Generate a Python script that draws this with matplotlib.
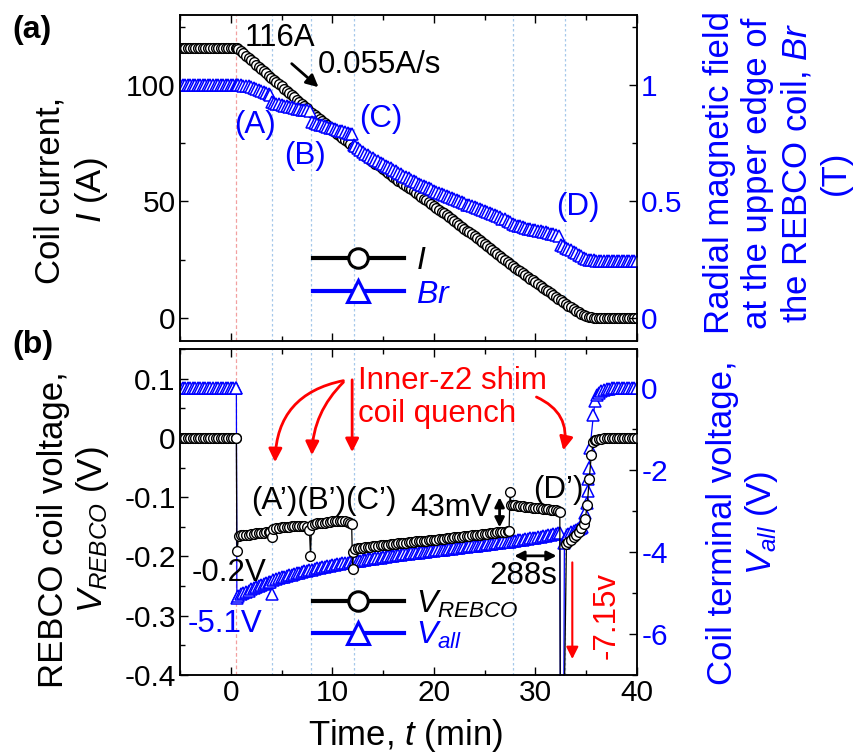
import matplotlib
matplotlib.use('Agg')
import matplotlib.pyplot as plt
from matplotlib.lines import Line2D
from matplotlib.ticker import MultipleLocator, FuncFormatter

plt.rcParams['font.family'] = ['Liberation Sans', 'DejaVu Sans']
plt.rcParams['mathtext.fontset'] = 'custom'
plt.rcParams['mathtext.rm'] = 'Liberation Sans'
plt.rcParams['mathtext.it'] = 'Liberation Sans:italic'
plt.rcParams['mathtext.bf'] = 'Liberation Sans:bold'
plt.rcParams['axes.unicode_minus'] = False

# ---------------- data ----------------
# (a) coil current I (A)
I_t = [-5.0, -4.75, -4.5, -4.25, -4.0, -3.75, -3.5, -3.25, -3.0, -2.75, -2.5, -2.25,
       -2.0, -1.75, -1.5, -1.25, -1.0, -0.75, -0.5, -0.25, 0.0, 0.25, 0.5, 0.6, 0.75,
       1.0, 1.25, 1.5, 1.75, 2.0, 2.25, 2.5, 2.75, 3.0, 3.25, 3.5, 3.75,
       4.0, 4.25, 4.5, 4.75, 5.0, 5.25, 5.5, 5.75, 6.0, 6.25, 6.5, 6.75,
       7.0, 7.25, 7.5, 7.75, 8.0, 8.25, 8.5, 8.75, 9.0, 9.25, 9.5, 9.75,
       10.0, 10.25, 10.5, 10.75, 11.0, 11.25, 11.5, 11.75, 12.0, 12.25, 12.5, 12.75,
       13.0, 13.25, 13.5, 13.75, 14.0, 14.25, 14.5, 14.75, 15.0, 15.25, 15.5, 15.75,
       16.0, 16.25, 16.5, 16.75, 17.0, 17.25, 17.5, 17.75, 18.0, 18.25, 18.5, 18.75,
       19.0, 19.25, 19.5, 19.75, 20.0, 20.25, 20.5, 20.75, 21.0, 21.25, 21.5, 21.75,
       22.0, 22.25, 22.5, 22.75, 23.0, 23.25, 23.5, 23.75, 24.0, 24.25, 24.5, 24.75,
       25.0, 25.25, 25.5, 25.75, 26.0, 26.25, 26.5, 26.75, 27.0, 27.25, 27.5, 27.75,
       28.0, 28.25, 28.5, 28.75, 29.0, 29.25, 29.5, 29.75, 30.0, 30.25, 30.5, 30.75,
       31.0, 31.25, 31.5, 31.75, 32.0, 32.25, 32.5, 32.75, 33.0, 33.25, 33.5, 33.75,
       34.0, 34.25, 34.5, 34.75, 35.0, 35.25, 35.5, 35.75, 36.0, 36.25, 36.5, 36.75,
       37.0, 37.25, 37.5, 37.75, 38.0, 38.25, 38.5, 38.75, 39.0, 39.25, 39.5, 39.75,
       40.0]
I_A = [116, 116, 116, 116, 116, 116, 116, 116, 116, 116, 116, 116,
       116, 116, 116, 116, 116, 116, 116, 116, 116, 116, 116, 116, 115.4,
       114.5, 113.5, 112.6, 111.6, 110.6, 109.7, 108.7, 107.8, 106.8, 105.9, 104.9, 104.0,
       103.0, 102.1, 101.1, 100.2, 99.3, 98.3, 97.4, 96.4, 95.5, 94.6, 93.6, 92.7,
       91.8, 90.8, 89.9, 88.9, 88.0, 87.1, 86.2, 85.3, 84.4, 83.5, 82.6, 81.7,
       80.8, 79.9, 79.0, 78.0, 77.1, 76.2, 75.3, 74.4, 73.5, 72.7, 71.9, 71.1,
       70.3, 69.4, 68.6, 67.8, 67.0, 66.2, 65.4, 64.6, 63.8, 62.9, 62.1, 61.3,
       60.5, 59.7, 58.9, 58.2, 57.4, 56.6, 55.8, 55.1, 54.3, 53.5, 52.7, 51.9,
       51.1, 50.4, 49.6, 48.8, 48.0, 47.2, 46.4, 45.6, 44.8, 43.9, 43.1, 42.3,
       41.5, 40.7, 39.9, 39.1, 38.3, 37.4, 36.6, 35.8, 35.0, 34.2, 33.3, 32.5,
       31.6, 30.8, 29.9, 29.1, 28.3, 27.4, 26.6, 25.7, 24.9, 24.0, 23.2, 22.3,
       21.5, 20.7, 19.9, 19.2, 18.4, 17.6, 16.8, 16.1, 15.3, 14.5, 13.7, 12.9,
       12.1, 11.4, 10.6, 9.8, 9.0, 8.2, 7.4, 6.7, 6.0, 5.2, 4.5, 3.7,
       3.0, 2.4, 1.8, 1.3, 0.8, 0.4, 0.1, 0.0, 0, 0, 0, 0,
       0, 0, 0, 0, 0, 0, 0, 0, 0, 0, 0, 0,
       0]

# (a) radial magnetic field Br (T)
Br_t = [-5.0, -4.75, -4.5, -4.25, -4.0, -3.75, -3.5, -3.25, -3.0, -2.75, -2.5, -2.25,
        -2.0, -1.75, -1.5, -1.25, -1.0, -0.75, -0.5, -0.25, 0.0, 0.25, 0.5,
        0.6, 0.75, 1.0, 1.25, 1.5, 1.75, 2.0, 2.25, 2.5, 2.75, 3.0, 3.25, 3.5, 3.75, 3.9,
        4.1, 4.25, 4.5, 4.75, 5.0, 5.25, 5.5, 5.75, 6.0, 6.25, 6.5, 6.75, 7.0, 7.25,
        7.5, 7.8,
        8.0, 8.25, 8.5, 8.75, 9.0, 9.25, 9.5, 9.75, 10.0, 10.25, 10.5, 10.75, 11.0,
        11.25, 11.5, 11.75, 11.9,
        12.1, 12.25, 12.5, 12.75,
        13.0, 13.25, 13.5, 13.75, 14.0, 14.25, 14.5, 14.75, 15.0, 15.25, 15.5, 15.75,
        16.0, 16.25, 16.5, 16.75, 17.0, 17.25, 17.5, 17.75, 18.0, 18.25, 18.5, 18.75,
        19.0, 19.25, 19.5, 19.75, 20.0, 20.25, 20.5, 20.75, 21.0, 21.25, 21.5, 21.75,
        22.0, 22.25, 22.5, 22.75, 23.0, 23.25, 23.5, 23.75, 24.0, 24.25, 24.5, 24.75,
        25.0, 25.25, 25.5, 25.75, 26.0, 26.25, 26.5, 26.75, 27.0, 27.25, 27.5, 27.75,
        28.0, 28.25, 28.5, 28.75, 29.0, 29.25, 29.5, 29.75, 30.0, 30.25, 30.5, 30.75,
        31.0, 31.25, 31.5, 31.75, 32.0, 32.3,
        32.5, 32.75, 33.0, 33.25, 33.5, 33.75, 34.0, 34.25, 34.5, 34.75, 35.0, 35.25,
        35.5, 35.75, 36.0, 36.25, 36.5, 36.75, 37.0, 37.25, 37.5, 37.75, 38.0, 38.25,
        38.5, 38.75, 39.0, 39.25, 39.5, 39.75, 40.0]
Br_T = [1.0, 1.0, 1.0, 1.0, 1.0, 1.0, 1.0, 1.0, 1.0, 1.0, 1.0, 1.0,
        1.0, 1.0, 1.0, 1.0, 1.0, 1.0, 1.0, 1.0, 1.0, 1.0, 1.0,
        1.0, 0.999, 0.998, 0.997, 0.995, 0.993, 0.990, 0.987, 0.983, 0.979, 0.975, 0.971,
        0.966, 0.961, 0.958,
        0.925, 0.922, 0.919, 0.916, 0.913, 0.910, 0.908, 0.905, 0.903, 0.900, 0.898,
        0.896, 0.894, 0.892, 0.890, 0.887,
        0.840, 0.836, 0.833, 0.829, 0.826, 0.822, 0.819, 0.816, 0.813, 0.809, 0.806,
        0.803, 0.800, 0.797, 0.794, 0.791, 0.789,
        0.742, 0.738, 0.730, 0.721,
        0.712, 0.705, 0.698, 0.691, 0.685, 0.678, 0.672, 0.666, 0.660, 0.653, 0.647, 0.641,
        0.635, 0.628, 0.622, 0.616, 0.610, 0.604, 0.598, 0.592, 0.587, 0.581, 0.576, 0.571,
        0.566, 0.561, 0.556, 0.551, 0.546, 0.541, 0.536, 0.531, 0.527, 0.522, 0.518, 0.513,
        0.509, 0.504, 0.500, 0.495, 0.491, 0.486, 0.482, 0.478, 0.474, 0.470, 0.466, 0.461,
        0.457, 0.453, 0.449, 0.444, 0.440, 0.435, 0.431, 0.426, 0.422, 0.416, 0.410, 0.403,
        0.398, 0.395, 0.392, 0.389, 0.386, 0.383, 0.381, 0.378, 0.376, 0.373, 0.371, 0.368,
        0.366, 0.363, 0.361, 0.358, 0.355, 0.350,
        0.312, 0.306, 0.301, 0.295, 0.289, 0.282, 0.276, 0.270, 0.264, 0.258, 0.253, 0.249,
        0.247, 0.246, 0.245, 0.245, 0.245, 0.245, 0.245, 0.245, 0.245, 0.245, 0.245, 0.245,
        0.245, 0.245, 0.245, 0.245, 0.245, 0.245, 0.245]

# (b) REBCO coil voltage V_REBCO (V)
Vr_t = [-5.0, -4.75, -4.5, -4.25, -4.0, -3.75, -3.5, -3.25, -3.0, -2.75, -2.5, -2.25,
        -2.0, -1.75, -1.5, -1.25, -1.0, -0.75, -0.5, -0.25, 0.0, 0.25, 0.5,
        0.55, 0.6, 0.8, 1.0, 1.25, 1.5, 1.75, 2.0, 2.25, 2.5, 2.75, 3.0, 3.25, 3.5, 3.75, 3.9,
        4.05, 4.2, 4.5, 4.75, 5.0, 5.25, 5.5, 5.75, 6.0, 6.25, 6.5, 6.75, 7.0, 7.25, 7.5, 7.75,
        7.85, 7.95, 8.25, 8.5, 8.75, 9.0, 9.25, 9.5, 9.75, 10.0, 10.25, 10.5, 10.75, 11.0,
        11.25, 11.5, 11.75, 11.9,
        12.0, 12.05, 12.2,
        12.5, 12.75, 13.0, 13.25, 13.5, 13.75, 14.0, 14.25, 14.5, 14.75, 15.0, 15.25,
        15.5, 15.75, 16.0, 16.25, 16.5, 16.75, 17.0, 17.25, 17.5, 17.75, 18.0, 18.25,
        18.5, 18.75, 19.0, 19.25, 19.5, 19.75, 20.0, 20.25, 20.5, 20.75, 21.0, 21.25,
        21.5, 21.75, 22.0, 22.25, 22.5, 22.75, 23.0, 23.25, 23.5, 23.75, 24.0, 24.25,
        24.5, 24.75, 25.0, 25.25, 25.5, 25.75, 26.0, 26.25, 26.5, 26.75, 27.0, 27.25,
        27.4, 27.5, 27.6, 27.75,
        28.0, 28.25, 28.5, 28.75, 29.0, 29.25, 29.5, 29.75, 30.0, 30.25, 30.5, 30.75,
        31.0, 31.25, 31.5, 31.75, 32.0, 32.25,
        32.4, 32.45, 32.8, 33.05, 33.25, 33.5, 33.75, 34.0, 34.25, 34.5, 34.75, 34.9,
        35.1, 35.3, 35.5, 35.7, 35.85, 36.0, 36.25, 36.5, 36.75,
        37.0, 37.25, 37.5, 37.75, 38.0, 38.25, 38.5, 38.75, 39.0, 39.25, 39.5, 39.75, 40.0]
Vr_V = [0, 0, 0, 0, 0, 0, 0, 0, 0, 0, 0, 0,
        0, 0, 0, 0, 0, 0, 0, 0, 0, 0, 0,
        0, -0.191, -0.165, -0.164, -0.164, -0.163, -0.163, -0.162, -0.162, -0.161, -0.161,
        -0.160, -0.160, -0.159, -0.159, -0.158,
        -0.168, -0.153, -0.152, -0.152, -0.151, -0.151, -0.150, -0.150, -0.149, -0.149,
        -0.148, -0.148, -0.148, -0.149, -0.151, -0.156,
        -0.199, -0.147, -0.145, -0.144, -0.144, -0.143, -0.143, -0.142, -0.142, -0.141,
        -0.141, -0.141, -0.141, -0.141, -0.141, -0.142, -0.143, -0.145,
        -0.221, -0.193, -0.187,
        -0.186, -0.1855, -0.185, -0.1845, -0.184, -0.1835, -0.183, -0.1825, -0.182, -0.1815,
        -0.181, -0.1805, -0.180, -0.1795, -0.179, -0.1785, -0.178, -0.1775, -0.177, -0.1765,
        -0.176, -0.1755, -0.175, -0.1747, -0.1745, -0.1742, -0.174, -0.1735, -0.173, -0.1725,
        -0.172, -0.1715, -0.171, -0.1705, -0.170, -0.1695, -0.169, -0.1685, -0.168, -0.1675,
        -0.167, -0.1665, -0.166, -0.1655, -0.165, -0.1645, -0.164, -0.1635, -0.163, -0.1625,
        -0.162, -0.1615, -0.161, -0.1605, -0.160, -0.1595, -0.159, -0.1585, -0.158, -0.1575,
        -0.157, -0.0915, -0.113, -0.113,
        -0.114, -0.1145, -0.115, -0.1155, -0.116, -0.1165, -0.117, -0.1175, -0.118, -0.1185,
        -0.119, -0.1195, -0.120, -0.1205, -0.121, -0.1215, -0.122, -0.1235,
        -0.125, -0.5, -0.5, -0.179, -0.176, -0.172, -0.168, -0.164, -0.158, -0.152, -0.145,
        -0.136, -0.114, -0.069, -0.029, -0.007, -0.004, -0.003, -0.002, -0.001, 0,
        0, 0, 0, 0, 0, 0, 0, 0, 0, 0, 0, 0, 0]

# (b) coil terminal voltage V_all (V)
Va_t = [-5.0, -4.75, -4.5, -4.25, -4.0, -3.75, -3.5, -3.25, -3.0, -2.75, -2.5, -2.25,
        -2.0, -1.75, -1.5, -1.25, -1.0, -0.75, -0.5, -0.25, 0.0, 0.25, 0.5,
        0.55, 0.6, 0.75, 1.0, 1.25, 1.5, 1.75, 2.0, 2.25, 2.5, 2.75, 3.0, 3.25, 3.5, 3.75,
        3.9, 4.05, 4.2,
        4.5, 4.75, 5.0, 5.25, 5.5, 5.75, 6.0, 6.25, 6.5, 6.75, 7.0, 7.25, 7.5, 7.75,
        8.0, 8.25, 8.5, 8.75, 9.0, 9.25, 9.5, 9.75, 10.0, 10.25, 10.5, 10.75,
        11.0, 11.25, 11.5, 11.75, 12.0, 12.25, 12.5, 12.75, 13.0, 13.25, 13.5, 13.75,
        14.0, 14.25, 14.5, 14.75, 15.0, 15.25, 15.5, 15.75, 16.0, 16.25, 16.5, 16.75,
        17.0, 17.25, 17.5, 17.75, 18.0, 18.25, 18.5, 18.75, 19.0, 19.25, 19.5, 19.75,
        20.0, 20.25, 20.5, 20.75, 21.0, 21.25, 21.5, 21.75, 22.0, 22.25, 22.5, 22.75,
        23.0, 23.25, 23.5, 23.75, 24.0, 24.25, 24.5, 24.75, 25.0, 25.25, 25.5, 25.75,
        26.0, 26.25, 26.5, 26.75, 27.0, 27.25, 27.5, 27.75, 28.0, 28.25, 28.5, 28.75,
        29.0, 29.25, 29.5, 29.75, 30.0, 30.25, 30.5, 30.75, 31.0, 31.25, 31.5, 31.75,
        32.0, 32.25,
        32.4, 32.45, 32.8, 32.85, 33.1, 33.25, 33.5, 33.75, 34.0, 34.15, 34.3, 34.45,
        34.55, 34.72, 34.88, 35.05, 35.15, 35.22, 35.28, 35.38, 35.71, 35.87, 36.04, 36.25,
        36.5, 36.75, 37.0, 37.25, 37.5, 37.75,
        38.0, 38.25, 38.5, 38.75, 39.0, 39.25, 39.5, 39.75, 40.0]
Va_V = [0, 0, 0, 0, 0, 0, 0, 0, 0, 0, 0, 0,
        0, 0, 0, 0, 0, 0, 0, 0, 0, 0, 0,
        0, -5.12, -5.07, -5.03, -5.00, -4.97, -4.94, -4.91, -4.885, -4.86, -4.835, -4.81,
        -4.785, -4.76, -4.735, -4.72, -5.02, -4.69,
        -4.66, -4.64, -4.62, -4.60, -4.58, -4.565, -4.55, -4.535, -4.52, -4.505, -4.49,
        -4.475, -4.46, -4.445,
        -4.43, -4.415, -4.40, -4.385, -4.37, -4.36, -4.35, -4.335, -4.32, -4.31, -4.30, -4.29,
        -4.28, -4.27, -4.26, -4.25, -4.24, -4.23, -4.22, -4.21, -4.20, -4.19, -4.18, -4.17,
        -4.16, -4.152, -4.145, -4.137, -4.13, -4.12, -4.11, -4.10, -4.09, -4.082, -4.075, -4.067,
        -4.06, -4.052, -4.045, -4.037, -4.03, -4.022, -4.015, -4.007, -4.00, -3.992, -3.985, -3.977,
        -3.97, -3.962, -3.955, -3.947, -3.94, -3.932, -3.925, -3.917, -3.91, -3.902, -3.895, -3.887,
        -3.88, -3.872, -3.865, -3.857, -3.85, -3.842, -3.835, -3.827, -3.82, -3.812, -3.805, -3.797,
        -3.79, -3.782, -3.775, -3.767, -3.76, -3.752, -3.745, -3.737, -3.73, -3.72, -3.71, -3.70,
        -3.69, -3.68, -3.67, -3.66, -3.65, -3.64, -3.63, -3.62, -3.61, -3.597, -3.585, -3.572,
        -3.56, -3.545,
        -3.53, -7.15, -7.15, -3.77, -3.58, -3.55, -3.52, -3.495, -3.47, -3.45, -3.43, -3.415,
        -3.40, -3.24, -3.04, -2.80, -2.51, -2.23, -1.95, -1.46, -0.65, -0.33, -0.17, -0.12,
        -0.08, -0.05, -0.03, -0.02, -0.01, -0.005,
        0, 0, 0, 0, 0, 0, 0, 0, 0]

quench_start = 0.56
event_times = [4.1, 7.9, 12.15, 27.8, 32.9]

x_ticks = [0, 10, 20, 30, 40]

# ---------------- figure ----------------
W, H = 857, 755
fig = plt.figure(figsize=(W / 100, H / 100), dpi=100)


def px_axes(l, t, r, b):
    return fig.add_axes([l / W, 1 - b / H, (r - l) / W, (b - t) / H])


ax1 = px_axes(180, 15, 637, 341)
ax2 = px_axes(180, 349, 637, 675)
ax1r = ax1.twinx()
ax2r = ax2.twinx()

# bottom: put V_REBCO axis above V_all axis
ax2.set_zorder(ax2r.get_zorder() + 1)
ax2.patch.set_visible(False)

TICK_FS = 21.5
fmt = FuncFormatter(lambda v, p: f'{v:g}')

mk_k = dict(color='k', lw=0.9, marker='o', ms=7, mfc='white', mec='k', mew=1.0)
mk_b = dict(color='blue', lw=0.9, marker='^', ms=8.5, mfc='white', mec='blue', mew=1.1)

ax1.plot(I_t, I_A, **mk_k)
ax1r.plot(Br_t, Br_T, **mk_b)
ax2r.plot(Va_t, Va_V, **mk_b)
ax2.plot(Vr_t, Vr_V, **mk_k)

# guide lines
for a in (ax1, ax2r):
    a.axvline(quench_start, color='#f2a0a0', lw=0.9, ls=(0, (3, 2)), zorder=0)
    for t in event_times:
        a.axvline(t, color='#a6c8ea', lw=0.9, ls=(0, (2, 2)), zorder=0)

# limits & ticks
for a in (ax1, ax2):
    a.set_xlim(-5, 40)
    a.set_xticks(x_ticks)
    a.xaxis.set_minor_locator(MultipleLocator(5))
    a.tick_params(axis='both', which='both', direction='in', top=True,
                  right=False, labelsize=TICK_FS, width=1, pad=3)
    a.tick_params(which='major', length=6)
    a.tick_params(which='minor', length=3.5)
    a.yaxis.set_major_formatter(fmt)
    for s in a.spines.values():
        s.set_linewidth(1.1)
for a in (ax1r, ax2r):
    a.tick_params(axis='y', which='both', direction='in', labelsize=TICK_FS,
                  labelcolor='blue', width=1, pad=3)
    a.tick_params(which='major', length=6)
    a.tick_params(which='minor', length=3.5)
    a.yaxis.set_major_formatter(fmt)
    for s in a.spines.values():
        s.set_linewidth(1.1)

ax1.tick_params(labelbottom=False)
ax1.set_ylim(-10, 130)
ax1.set_yticks([0, 50, 100])
ax1.yaxis.set_minor_locator(MultipleLocator(25))
ax1r.set_ylim(-0.1, 1.3)
ax1r.set_yticks([0, 0.5, 1])
ax1r.yaxis.set_minor_locator(MultipleLocator(0.25))

ax2.set_ylim(-0.4, 0.15)
ax2.set_yticks([-0.4, -0.3, -0.2, -0.1, 0, 0.1])
ax2.yaxis.set_minor_locator(MultipleLocator(0.05))
ax2r.set_ylim(-7, 0.95)
ax2r.set_yticks([-6, -4, -2, 0])
ax2r.yaxis.set_minor_locator(MultipleLocator(1))

# legends
LEG_FS = 23
h1 = Line2D([], [], color='k', lw=3, marker='o', ms=14, mfc='white', mec='k', mew=2.2)
h2 = Line2D([], [], color='blue', lw=3, marker='^', ms=16, mfc='white', mec='blue', mew=2.2)
ax1r.legend([h1, h2], ['$I$', '$Br$'], loc='upper left', bbox_to_anchor=(0.29, 0.29),
            frameon=False, fontsize=LEG_FS, handlelength=2.85, handletextpad=0.4,
            labelspacing=0.1, borderpad=0, borderaxespad=0,
            labelcolor=['black', 'blue'])
ax2.legend([h1, h2], ['$V_{REBCO}$', '$V_{all}$'], loc='upper left',
           bbox_to_anchor=(0.29, 0.265), frameon=False, fontsize=LEG_FS,
           handlelength=2.85, handletextpad=0.4, labelspacing=0.0,
           borderpad=0, borderaxespad=0, labelcolor=['black', 'blue'])

# annotations (a)
ANN_FS = 22.5
ax1.text(1.4, 120.3, '116A', fontsize=ANN_FS, ha='left', va='center')
ax1.text(8.6, 108.6, '0.055A/s', fontsize=ANN_FS, ha='left', va='center')
ax1.annotate('', xy=(8.64, 99.0), xytext=(6.0, 109.1),
             arrowprops=dict(arrowstyle='-|>', color='k', lw=2, mutation_scale=18,
                             shrinkA=0, shrinkB=0))
for lab, x, y in [('(A)', 2.38, 82.8), ('(B)', 7.33, 69.4), ('(C)', 14.75, 85.3),
                  ('(D)', 34.2, 47.4)]:
    ax1.text(x, y, lab, fontsize=ANN_FS, color='blue', ha='center', va='center')

# annotations (b)
ax2.text(12.57, 0.068, 'Inner-z2 shim\ncoil quench', fontsize=ANN_FS, color='red',
         ha='left', va='center', linespacing=1.15)
red_arrow = dict(arrowstyle='-|>', color='red', lw=2, mutation_scale=20,
                 shrinkA=0, shrinkB=0)
ax2.annotate('', xy=(4.36, -0.041), xytext=(11.09, 0.0966),
             arrowprops=dict(red_arrow, connectionstyle='arc3,rad=0.4'))
ax2.annotate('', xy=(7.99, -0.029), xytext=(11.09, 0.094),
             arrowprops=dict(red_arrow, connectionstyle='arc3,rad=0.2'))
ax2.annotate('', xy=(11.95, -0.024), xytext=(11.95, 0.098),
             arrowprops=dict(red_arrow))
ax2.annotate('', xy=(32.74, -0.021), xytext=(30.1, 0.069),
             arrowprops=dict(red_arrow, connectionstyle='arc3,rad=-0.4'))

ax2.text(2.05, -0.1056, '(A\u2019)(B\u2019)(C\u2019)', fontsize=ANN_FS, ha='left', va='center')
ax2.text(29.8, -0.0886, '(D\u2019)', fontsize=ANN_FS, ha='left', va='center')
ax2.text(17.7, -0.1175, '43mV', fontsize=ANN_FS, ha='left', va='center')
ax2.annotate('', xy=(26.47, -0.151), xytext=(26.47, -0.100),
             arrowprops=dict(arrowstyle='<|-|>', color='k', lw=2, mutation_scale=14,
                             shrinkA=0, shrinkB=0))
ax2.text(25.45, -0.2327, '288s', fontsize=ANN_FS, ha='left', va='center')
ax2.annotate('', xy=(32.08, -0.199), xytext=(27.92, -0.199),
             arrowprops=dict(arrowstyle='<|-|>', color='k', lw=2, mutation_scale=14,
                             shrinkA=0, shrinkB=0))
ax2.text(-3.89, -0.2276, '-0.2V', fontsize=ANN_FS, ha='left', va='center')
ax2.text(-4.26, -0.314, '-5.1V', fontsize=ANN_FS, color='blue', ha='left', va='center')
ax2.text(37.03, -0.30, '-7.15v', fontsize=ANN_FS, color='red', rotation=90,
         ha='center', va='center')
ax2.annotate('', xy=(33.63, -0.373), xytext=(33.63, -0.21),
             arrowprops=dict(arrowstyle='-|>', color='red', lw=1.5, mutation_scale=18,
                             shrinkA=0, shrinkB=0))

# panel letters and axis labels
fig.text(12 / W, 1 - 30 / H, '(a)', fontsize=23, weight='bold', ha='left', va='center')
fig.text(12 / W, 1 - 345 / H, '(b)', fontsize=23, weight='bold', ha='left', va='center')

LAB_FS = 25
fig.text(72 / W, 1 - 190 / H, 'Coil current,\n$I$ (A)', fontsize=LAB_FS, rotation=90,
         ha='center', va='center', multialignment='center', linespacing=1.25)
fig.text(74 / W, 1 - 530 / H, 'REBCO coil voltage,\n$V_{REBCO}$ (V)', fontsize=LAB_FS,
         rotation=90, ha='center', va='center', multialignment='center', linespacing=1.15)
fig.text(777 / W, 1 - 173 / H,
         'Radial magnetic field\nat the upper edge of\nthe REBCO coil, $Br$\n(T)',
         fontsize=LAB_FS, color='blue', rotation=90, ha='center', va='center',
         multialignment='center', linespacing=1.2)
fig.text(743 / W, 1 - 523 / H, 'Coil terminal voltage,\n$V_{all}$ (V)', fontsize=LAB_FS,
         color='blue', rotation=90, ha='center', va='center', multialignment='center',
         linespacing=1.15)
fig.text(405 / W, 1 - 735 / H, 'Time, $t$ (min)', fontsize=LAB_FS, ha='center', va='center')

fig.savefig('out.png', dpi=100)
